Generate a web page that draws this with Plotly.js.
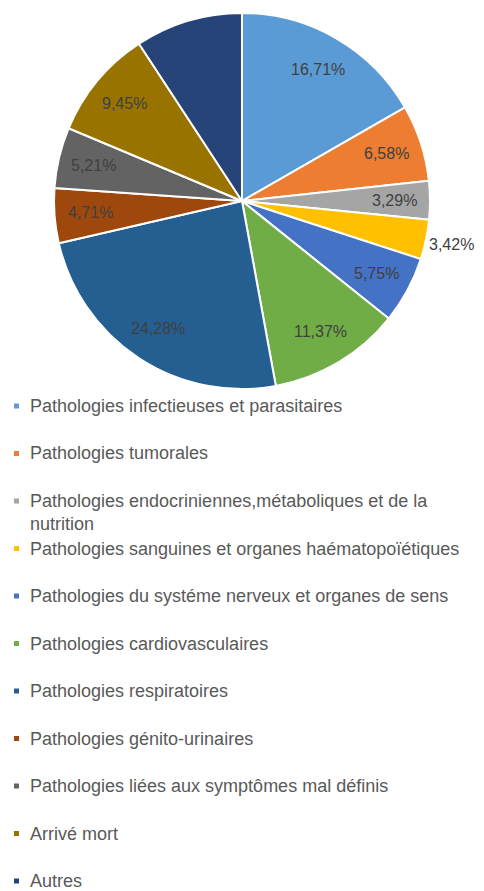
<!DOCTYPE html>
<html>
<head>
<meta charset="utf-8">
<script src="https://cdn.plot.ly/plotly-3.0.1.min.js"></script>
<style>html,body{margin:0;padding:0;background:#fff;}#chart{width:484px;height:891px;}</style>
</head>
<body>
<div id="chart"></div>
<script>
const categories = [
  "Pathologies infectieuses et parasitaires",
  "Pathologies tumorales",
  "Pathologies endocriniennes,métaboliques et de la nutrition",
  "Pathologies sanguines et organes haématopoïétiques",
  "Pathologies du systéme nerveux et organes de sens",
  "Pathologies cardiovasculaires",
  "Pathologies respiratoires",
  "Pathologies génito-urinaires",
  "Pathologies liées aux symptômes mal définis",
  "Arrivé mort",
  "Autres"
];
const legendLabels = [
  "Pathologies infectieuses et parasitaires",
  "Pathologies tumorales",
  "Pathologies endocriniennes,métaboliques et de la<br>nutrition",
  "Pathologies sanguines et organes haématopoïétiques",
  "Pathologies du systéme nerveux et organes de sens",
  "Pathologies cardiovasculaires",
  "Pathologies respiratoires",
  "Pathologies génito-urinaires",
  "Pathologies liées aux symptômes mal définis",
  "Arrivé mort",
  "Autres"
];
const values = [16.71, 6.58, 3.29, 3.42, 5.75, 11.37, 24.28, 4.71, 5.21, 9.45, 9.23];
const valueLabels = ["16,71%", "6,58%", "3,29%", "3,42%", "5,75%", "11,37%", "24,28%", "4,71%", "5,21%", "9,45%", ""];
const labelOutside = [false, false, false, true, false, false, false, false, false, false, false];
const colors = ["#5B9BD5", "#ED7D31", "#A5A5A5", "#FFC000", "#4472C4", "#70AD47",
                "#255E91", "#9E480E", "#636363", "#997300", "#264478"];

const W = 484, H = 891;
const cx = 242, cy = 201, R = 188;
const FONT = "Liberation Sans, Arial, sans-serif";

const total = values.reduce((a, b) => a + b, 0);
const annotations = [];
const shapes = [];
let cum = 0;
values.forEach((v, i) => {
  const mid = (cum + v / 2) / total * 2 * Math.PI;
  cum += v;
  if (!valueLabels[i]) return;
  const r = labelOutside[i] ? 1.14 * R : 0.81 * R;
  const px = cx + r * Math.sin(mid);
  const py = cy - r * Math.cos(mid);
  annotations.push({
    xref: "paper", yref: "paper",
    x: px / W, y: 1 - py / H,
    xanchor: "center", yanchor: "middle",
    text: valueLabels[i], showarrow: false,
    font: {family: FONT, size: 16, color: "#404040"}
  });
});

const legY0 = 406, legGap = 47.5, legTextX = 28, legMarkX = 14;
legendLabels.forEach((lab, i) => {
  const y = legY0 + i * legGap;
  const wrapped = lab.indexOf("<br>") >= 0;
  annotations.push({
    xref: "paper", yref: "paper",
    x: legTextX / W, y: wrapped ? 1 - (y - 12) / H : 1 - y / H,
    xanchor: "left", yanchor: wrapped ? "top" : "middle", align: "left",
    text: lab, showarrow: false,
    font: {family: FONT, size: 18, color: "#595959"}
  });
  shapes.push({
    type: "rect", xref: "paper", yref: "paper",
    x0: legMarkX / W, x1: (legMarkX + 5) / W,
    y0: 1 - (y + 2.5) / H, y1: 1 - (y - 2.5) / H,
    fillcolor: colors[i], line: {width: 0}
  });
});

const trace = {
  type: "pie",
  labels: categories,
  values: values,
  sort: false,
  direction: "clockwise",
  rotation: 0,
  textinfo: "none",
  hoverinfo: "label+percent",
  marker: {colors: colors, line: {color: "#ffffff", width: 2}},
  domain: {x: [(cx - R) / W, (cx + R) / W], y: [1 - (cy + R) / H, 1 - (cy - R) / H]},
  showlegend: false
};

Plotly.newPlot("chart", [trace], {
  width: W, height: H,
  margin: {l: 0, r: 0, t: 0, b: 0},
  paper_bgcolor: "#ffffff",
  showlegend: false,
  annotations: annotations,
  shapes: shapes
}, {staticPlot: true});
</script>
</body>
</html>
